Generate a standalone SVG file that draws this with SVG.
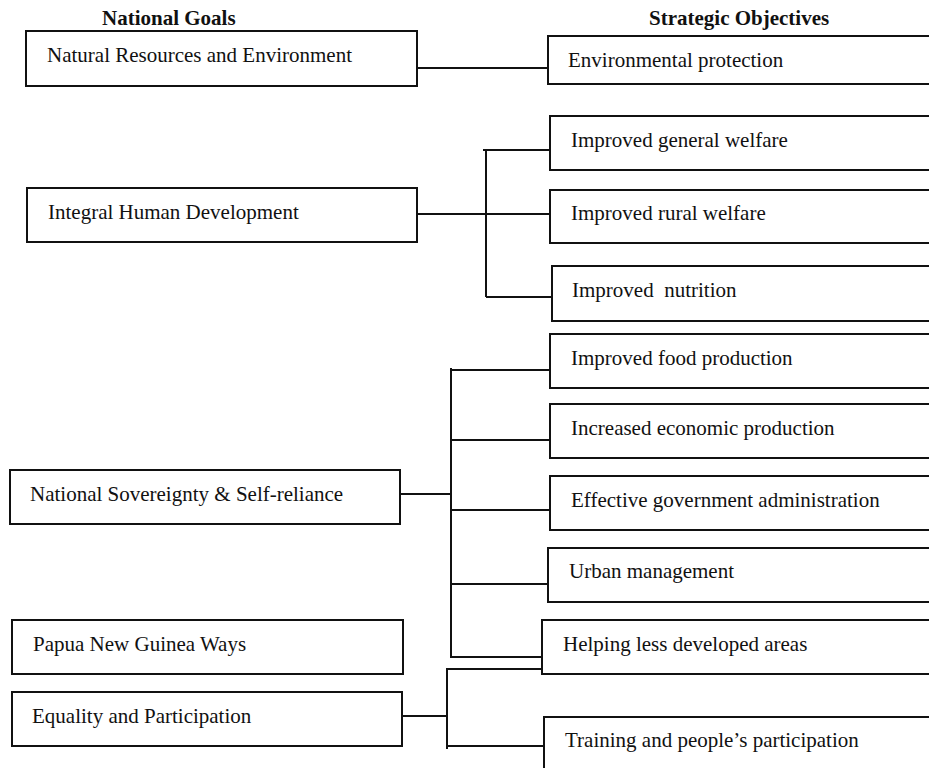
<svg xmlns="http://www.w3.org/2000/svg" width="929" height="768" viewBox="0 0 929 768">
<style>
  .box { fill: #ffffff; stroke: #111111; stroke-width: 2; }
  .lbl { font-family: "Liberation Serif", "Times New Roman", serif; font-size: 21px; fill: #111111; }
  .hdr { font-family: "Liberation Serif", "Times New Roman", serif; font-size: 21px; font-weight: bold; fill: #111111; }
  .conn { stroke: #111111; stroke-width: 2; fill: none; }
</style>
<rect x="0" y="0" width="929" height="768" fill="#ffffff"/>

<text class="hdr" x="102" y="25">National Goals</text>
<text class="hdr" x="649" y="25">Strategic Objectives</text>

<g id="connectors">
  <path class="conn" d="M417 68 H548"/>
  <path class="conn" d="M417 214 H552"/>
  <path class="conn" d="M486 150 V297"/>
  <path class="conn" d="M483 150 H550"/>
  <path class="conn" d="M486 297 H552"/>
  <path class="conn" d="M400 494 H452"/>
  <path class="conn" d="M451 368 V658"/>
  <path class="conn" d="M451 370 H550"/>
  <path class="conn" d="M451 440 H550"/>
  <path class="conn" d="M451 510 H550"/>
  <path class="conn" d="M451 584 H548"/>
  <path class="conn" d="M451 657 H543"/>
  <path class="conn" d="M402 716 H448"/>
  <path class="conn" d="M447 668 V749"/>
  <path class="conn" d="M447 669 H543"/>
  <path class="conn" d="M447 746 H544"/>
</g>

<g id="goal-natural-resources">
  <rect class="box" x="26" y="31" width="391" height="55"/>
  <text class="lbl" x="47" y="62">Natural Resources and Environment</text>
</g>
<g id="goal-integral-human">
  <rect class="box" x="27" y="188" width="390" height="54"/>
  <text class="lbl" x="48" y="219">Integral Human Development</text>
</g>
<g id="goal-sovereignty">
  <rect class="box" x="10" y="470" width="390" height="54"/>
  <text class="lbl" x="30" y="501">National Sovereignty &amp; Self-reliance</text>
</g>
<g id="goal-png-ways">
  <rect class="box" x="12" y="620" width="391" height="54"/>
  <text class="lbl" x="33" y="651">Papua New Guinea Ways</text>
</g>
<g id="goal-equality">
  <rect class="box" x="12" y="692" width="390" height="54"/>
  <text class="lbl" x="32" y="723">Equality and Participation</text>
</g>

<g id="obj-environmental">
  <rect class="box" x="548" y="36" width="400" height="48"/>
  <text class="lbl" x="568" y="67">Environmental protection</text>
</g>
<g id="obj-general-welfare">
  <rect class="box" x="550" y="116" width="400" height="54"/>
  <text class="lbl" x="571" y="147">Improved general welfare</text>
</g>
<g id="obj-rural-welfare">
  <rect class="box" x="550" y="190" width="400" height="53"/>
  <text class="lbl" x="571" y="220">Improved rural welfare</text>
</g>
<g id="obj-nutrition">
  <rect class="box" x="552" y="266" width="400" height="55"/>
  <text class="lbl" x="572" y="297" xml:space="preserve">Improved  nutrition</text>
</g>
<g id="obj-food">
  <rect class="box" x="550" y="334" width="400" height="54"/>
  <text class="lbl" x="571" y="365">Improved food production</text>
</g>
<g id="obj-economic">
  <rect class="box" x="550" y="404" width="400" height="54"/>
  <text class="lbl" x="571" y="435">Increased economic production</text>
</g>
<g id="obj-government">
  <rect class="box" x="550" y="476" width="400" height="54"/>
  <text class="lbl" x="571" y="507">Effective government administration</text>
</g>
<g id="obj-urban">
  <rect class="box" x="548" y="548" width="400" height="54"/>
  <text class="lbl" x="569" y="578">Urban management</text>
</g>
<g id="obj-helping">
  <rect class="box" x="542" y="620" width="400" height="54"/>
  <text class="lbl" x="563" y="651">Helping less developed areas</text>
</g>
<g id="obj-training">
  <rect class="box" x="544" y="717" width="400" height="70"/>
  <text class="lbl" x="565" y="747">Training and people’s participation</text>
</g>
</svg>
